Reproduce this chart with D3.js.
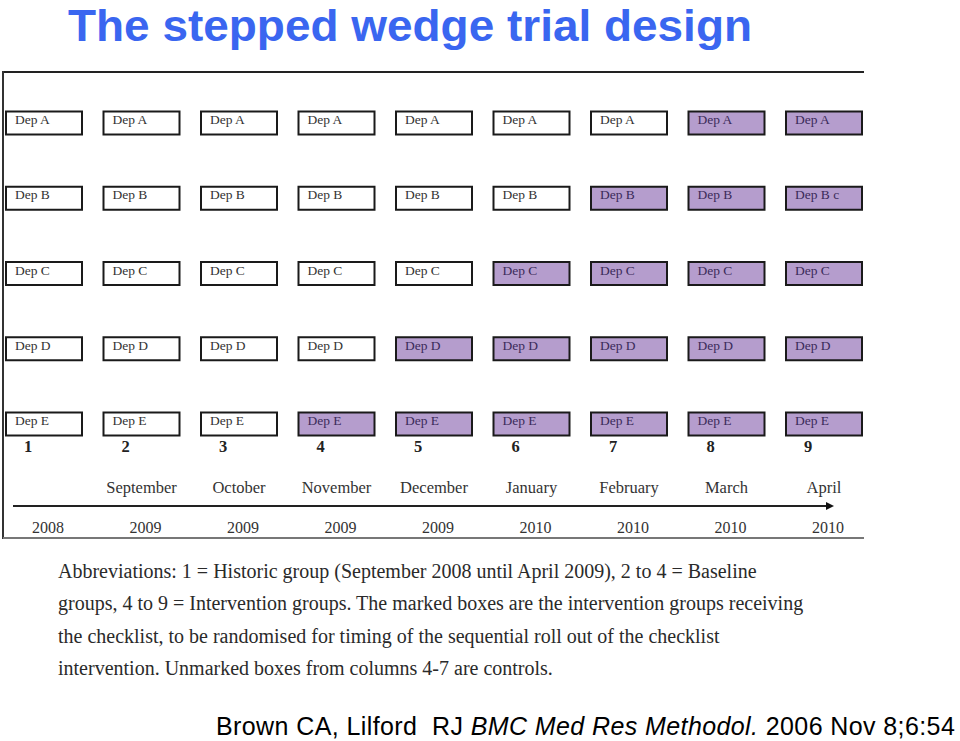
<!DOCTYPE html>
<html><head><meta charset="utf-8">
<script src="https://cdn.jsdelivr.net/npm/d3@7"></script>
<style>html,body{margin:0;padding:0;background:#fff;}</style>
</head><body>
<svg id="c" width="960" height="741"></svg>
<script>
// ---- data ----
const departments = ["A", "B", "C", "D", "E"];
const boxLabels = {A: "Dep A", B: "Dep B", C: "Dep C", D: "Dep D", E: "Dep E"};
const lastBoxLabelB = "Dep B c";
// first column (1-based) in which each department receives the intervention
const interventionStart = [8, 7, 6, 5, 4];
const columns = [1, 2, 3, 4, 5, 6, 7, 8, 9];
const monthLabels = ["", "September", "October", "November", "December", "January", "February", "March", "April"];
const yearLabels = ["2008", "2009", "2009", "2009", "2009", "2010", "2010", "2010", "2010"];
const titleText = "The stepped wedge trial design";
const abbreviations = [
  "Abbreviations: 1 = Historic group (September 2008 until April 2009), 2 to 4 = Baseline",
  "groups, 4 to 9 = Intervention groups. The marked boxes are the intervention groups receiving",
  "the checklist, to be randomised for timing of the sequential roll out of the checklist",
  "intervention. Unmarked boxes from columns 4-7 are controls."
];

// ---- drawing ----
const svg = d3.select("#c");
const purple = "#b59dcd";
const serif = "'Liberation Serif','DejaVu Serif',serif";

const x = d3.scaleLinear().domain([1, 9]).range([44, 824]);
const y = d3.scalePoint().domain(departments).range([123, 424]);
const boxW = 76, boxH = 23;

svg.append("text").attr("x", 68).attr("y", 41)
  .attr("font-family", "'Liberation Sans',Arial,sans-serif").attr("font-weight", "bold")
  .attr("font-size", 45).attr("fill", "#3a66f0")
  .attr("textLength", 684).attr("lengthAdjust", "spacingAndGlyphs").text(titleText);

// frame
const frame = svg.append("g");
frame.append("line").attr("x1", 3).attr("x2", 864).attr("y1", 72).attr("y2", 72).attr("stroke", "#222").attr("stroke-width", 2);
frame.append("line").attr("x1", 3).attr("x2", 3).attr("y1", 71).attr("y2", 539).attr("stroke", "#333").attr("stroke-width", 2);
frame.append("line").attr("x1", 3).attr("x2", 864).attr("y1", 538).attr("y2", 538).attr("stroke", "#777").attr("stroke-width", 2);

// boxes
const cells = [];
departments.forEach((d, i) => columns.forEach(c => cells.push({dep: d, col: c, on: c >= interventionStart[i],
  label: (d === "B" && c === 9) ? lastBoxLabelB : boxLabels[d]})));

const g = svg.append("g");
const cell = g.selectAll("g.cell").data(cells).join("g").attr("class", "cell")
  .attr("transform", d => `translate(${x(d.col) - boxW / 2},${y(d.dep) - boxH / 2})`);
cell.append("rect").attr("width", boxW).attr("height", boxH)
  .attr("fill", d => d.on ? purple : "#fff").attr("stroke", "#1a1a1a").attr("stroke-width", 2);
cell.append("text").attr("x", 9).attr("y", 12.5)
  .attr("font-family", serif).attr("font-size", 13.5)
  .attr("fill", d => d.on ? "#3b2b5a" : "#333").text(d => d.label);

// column numbers
svg.append("g").selectAll("text").data(columns).join("text")
  .attr("x", d => x(d) - 20).attr("y", 452)
  .attr("font-family", serif).attr("font-weight", "bold").attr("font-size", 16.5).attr("fill", "#222")
  .text(d => d);

// months
svg.append("g").selectAll("text").data(columns).join("text")
  .attr("x", d => x(d)).attr("y", 493).attr("text-anchor", "middle")
  .attr("font-family", serif).attr("font-size", 16.5).attr("fill", "#333")
  .text((d, i) => monthLabels[i]);

// arrow
svg.append("defs").append("marker").attr("id", "ah").attr("viewBox", "0 0 10 10")
  .attr("refX", 0).attr("refY", 5).attr("markerWidth", 10).attr("markerHeight", 8)
  .attr("markerUnits", "userSpaceOnUse").attr("orient", "auto")
  .append("path").attr("d", "M0,0 L10,5 L0,10 Z").attr("fill", "#111");
svg.append("line").attr("x1", 13).attr("x2", 826).attr("y1", 506).attr("y2", 506)
  .attr("stroke", "#222").attr("stroke-width", 2).attr("marker-end", "url(#ah)");

// years
svg.append("g").selectAll("text").data(columns).join("text")
  .attr("x", d => x(d) + 4).attr("y", 533).attr("text-anchor", "middle")
  .attr("font-family", serif).attr("font-size", 16).attr("fill", "#333")
  .text((d, i) => yearLabels[i]);

// abbreviations
svg.append("g").selectAll("text").data(abbreviations).join("text")
  .attr("x", 58).attr("y", (d, i) => 578 + i * 32.3)
  .attr("font-family", serif).attr("font-size", 20).attr("fill", "#2a2a2a")
  .text(d => d);

// citation
const cit = svg.append("text").attr("x", 216).attr("y", 735)
  .attr("font-family", "'Liberation Sans',Arial,sans-serif").attr("font-size", 25).attr("fill", "#000")
  .attr("letter-spacing", 0.4);
cit.append("tspan").text("Brown CA, Lilford  RJ ").attr("style", "white-space:pre");
cit.append("tspan").attr("font-style", "italic").text("BMC Med Res Methodol.");
cit.append("tspan").text(" 2006 Nov 8;6:54");
</script>
</body></html>
